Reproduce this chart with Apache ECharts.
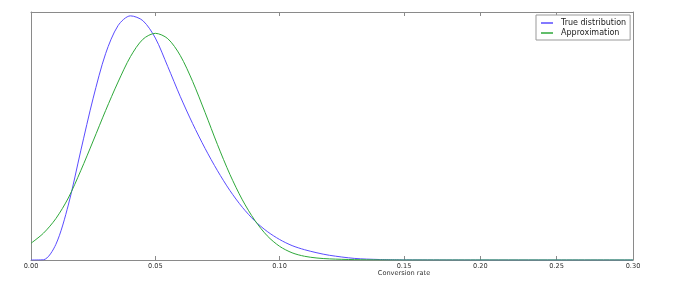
<!DOCTYPE html>
<html>
<head>
<meta charset="utf-8">
<script src="https://cdn.jsdelivr.net/npm/echarts@6/dist/echarts.min.js"></script>
<style>html,body{margin:0;padding:0;background:#fff;}#c{width:687px;height:291px;}</style>
</head>
<body>
<div id="c"></div>
<script>
// Conversion rate sample points
var xs = [0, 0.005, 0.01, 0.015, 0.02, 0.025, 0.03, 0.035, 0.04, 0.045, 0.05, 0.055, 0.06, 0.065, 0.07, 0.075, 0.08, 0.085, 0.09, 0.095, 0.10, 0.105, 0.11, 0.115, 0.12, 0.13, 0.14, 0.15, 0.20, 0.25, 0.30];
// Density of the true distribution
var trueDist = [0, 0.02, 1.26, 4.43, 8.8, 13.05, 16.64, 18.9, 19.69, 19.3, 17.9, 15.6, 13.2, 11.0, 9.0, 7.2, 5.6, 4.25, 3.15, 2.3, 1.65, 1.16, 0.83, 0.58, 0.38, 0.13, 0.04, 0.01, 0, 0, 0];
// Density of the approximation
var approx = [1.35, 2.16, 3.34, 5.0, 7.2, 9.6, 12.05, 14.35, 16.4, 17.8, 18.28, 17.85, 16.5, 14.4, 11.9, 9.3, 6.9, 4.85, 3.2, 1.95, 1.1, 0.58, 0.3, 0.16, 0.09, 0.03, 0.01, 0, 0, 0, 0];
var seriesNames = ['True distribution', 'Approximation'];
var xLabel = 'Conversion rate';

var split = 0.15;
function part(vals, lo, hi) {
  var out = [];
  for (var i = 0; i < xs.length; i++) {
    if (xs[i] >= lo - 1e-9 && xs[i] <= hi + 1e-9) out.push([xs[i], vals[i]]);
  }
  return out;
}
var lineCol = '#8a8a8a';
var blue = '#5a4cff';
var green = '#2ea83a';
function fmt(v) { return v.toFixed(2); }

function xAx(gi, pos, lo, hi, showLabels, hideMin) {
  return {
    type: 'value', gridIndex: gi, position: pos, min: lo, max: hi, interval: 0.05,
    axisLine: { show: true, onZero: false, lineStyle: { color: lineCol, width: 1 } },
    axisTick: { show: true, inside: true, length: 4, lineStyle: { color: lineCol } },
    axisLabel: { show: showLabels, showMinLabel: !hideMin, formatter: fmt, fontSize: 6.6, color: '#333', margin: 3, fontFamily: 'DejaVu Sans' },
    splitLine: { show: false }
  };
}
function yAx(gi, pos) {
  return {
    type: 'value', gridIndex: gi, position: pos, min: 0, max: 20,
    axisLine: { show: true, onZero: false, lineStyle: { color: lineCol, width: 1 } },
    axisTick: { show: false }, axisLabel: { show: false }, splitLine: { show: false }
  };
}
function ser(name, vals, gi, color, lo, hi) {
  return {
    name: name, type: 'line', xAxisIndex: gi * 2, yAxisIndex: gi,
    data: part(vals, lo, hi), showSymbol: false, symbol: 'none', smooth: 0.3,
    lineStyle: { color: color, width: 1 }, itemStyle: { color: color }, animation: false
  };
}

var chart = echarts.init(document.getElementById('c'), null, { renderer: 'canvas' });
chart.setOption({
  animation: false,
  backgroundColor: '#fff',
  title: { text: xLabel, left: 404, top: 270, textAlign: 'center', padding: 0,
    textStyle: { fontSize: 6.6, fontWeight: 'normal', color: '#333', fontFamily: 'DejaVu Sans' } },
  legend: {
    data: seriesNames, orient: 'vertical', left: 536, top: 15,
    padding: [4, 4, 3, 5], itemGap: 2, itemWidth: 12, itemHeight: 1.5, icon: 'rect',
    borderColor: '#999', borderWidth: 1, backgroundColor: '#fff',
    textStyle: { fontSize: 8, color: '#222', fontFamily: 'DejaVu Sans', padding: [0, 0, 0, 3] }
  },
  grid: [
    { left: 31, right: 283, top: 12, bottom: 31 },
    { left: 404, right: 54, top: 12, bottom: 31 }
  ],
  xAxis: [
    xAx(0, 'bottom', 0, split, true, false),
    xAx(0, 'top', 0, split, false, false),
    xAx(1, 'bottom', split, 0.30, true, true),
    xAx(1, 'top', split, 0.30, false, true)
  ],
  yAxis: [yAx(0, 'left'), yAx(1, 'right')],
  series: [
    ser(seriesNames[0], trueDist, 0, blue, 0, split),
    ser(seriesNames[1], approx, 0, green, 0, split),
    ser(seriesNames[0], trueDist, 1, blue, split, 0.30),
    ser(seriesNames[1], approx, 1, green, split, 0.30)
  ]
});
</script>
</body>
</html>
